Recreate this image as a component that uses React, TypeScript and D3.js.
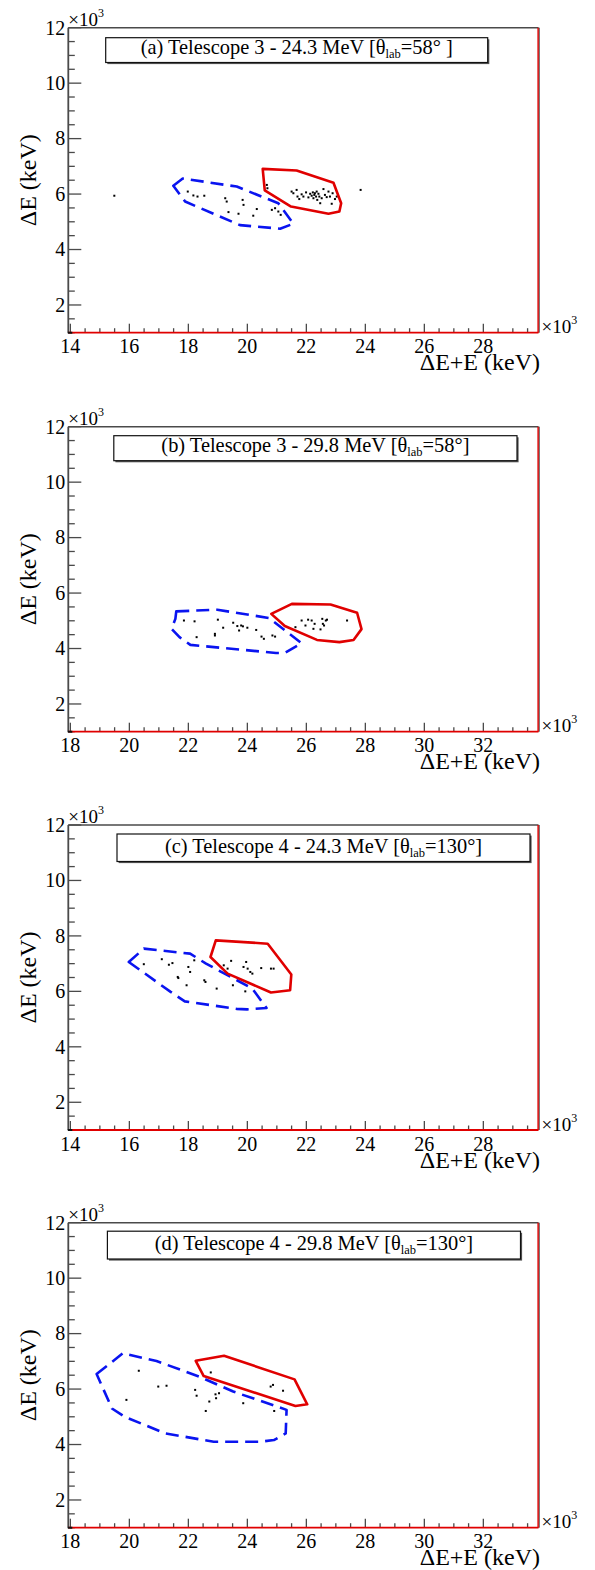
import React from "react";
import * as d3 from "d3";

type Pt = [number, number];

// ---------- data (values in units of 10^3 keV) ----------
const titlePrefix = [
  "(a) Telescope 3 - 24.3 MeV [θ",
  "(b) Telescope 3 - 29.8 MeV [θ",
  "(c) Telescope 4 - 24.3 MeV [θ",
  "(d) Telescope 4 - 29.8 MeV [θ",
];
const titleSub = "lab";
const titleSuffix = ["=58° ]", "=58°]", "=130°]", "=130°]"];

const xDomains: Pt[] = [
  [13.93, 29.87],
  [17.93, 33.87],
  [13.93, 29.87],
  [17.93, 33.87],
];
const xMajorTicks = [
  [14, 16, 18, 20, 22, 24, 26, 28],
  [18, 20, 22, 24, 26, 28, 30, 32],
  [14, 16, 18, 20, 22, 24, 26, 28],
  [18, 20, 22, 24, 26, 28, 30, 32],
];
const yDomain: Pt = [1, 12];
const yMajorTicks = [2, 4, 6, 8, 10, 12];
const xTitle = "ΔE+E (keV)";
const yTitle = "ΔE (keV)";

const blueA: Pt[] = [[17.49, 6.3], [17.81, 6.56], [19.64, 6.27], [21.05, 5.67], [21.56, 4.93], [21.11, 4.75], [19.75, 4.88], [17.89, 5.73]];
const redA: Pt[] = [[20.52, 6.91], [21.67, 6.85], [22.92, 6.41], [23.18, 5.67], [23.12, 5.37], [22.75, 5.29], [21.48, 5.55], [20.59, 6.13]];
const dotsA: Pt[] = [
  [15.49, 5.94], [23.84, 6.15],
  [17.98, 6.09], [18.17, 5.95], [18.31, 5.91], [18.54, 5.94], [19.25, 5.85], [19.3, 5.73], [19.36, 5.35], [19.7, 5.29],
  [19.84, 5.79], [19.87, 5.61], [20.2, 5.22], [20.32, 5.46], [20.83, 5.43], [20.94, 5.49], [21.05, 5.37], [21.13, 5.25],
  [20.66, 6.33], [20.68, 6.21], [21.5, 6.09], [21.56, 6.03], [21.67, 6.15], [21.7, 5.91], [21.76, 5.82], [21.84, 5.99],
  [21.9, 5.91], [21.99, 6.06], [22.07, 5.88], [22.13, 6.01], [22.18, 5.94], [22.22, 6.06], [22.24, 5.85], [22.27, 5.97],
  [22.29, 6.03], [22.33, 5.91], [22.35, 6.09], [22.37, 5.79], [22.41, 6.01], [22.44, 5.91], [22.47, 5.67], [22.52, 5.85],
  [22.58, 6.18], [22.63, 5.97], [22.69, 5.89], [22.75, 6.09], [22.8, 5.91], [22.86, 5.65], [22.89, 6.03], [22.97, 5.82], [23.03, 5.91],
];

const blueB: Pt[] = [[21.59, 5.34], [22.98, 5.4], [24.73, 5.1], [25.84, 4.19], [25.27, 3.84], [24.97, 3.84], [22.07, 4.13], [21.7, 4.41], [21.43, 4.71], [21.56, 5.07]];
const redB: Pt[] = [[24.81, 5.25], [25.51, 5.61], [26.82, 5.59], [27.72, 5.29], [27.87, 4.7], [27.6, 4.31], [27.12, 4.23], [26.36, 4.31], [25.27, 4.81]];
const dotsB: Pt[] = [
  [21.85, 5.01], [22.21, 4.98], [22.28, 4.41], [23.0, 5.04], [23.18, 4.75], [22.9, 4.53], [22.9, 4.47], [23.52, 4.93],
  [23.66, 4.81], [23.72, 4.65], [23.79, 4.83], [23.85, 4.8], [24.0, 4.75], [24.3, 4.67], [24.48, 4.43], [24.56, 4.35],
  [24.85, 4.47], [24.94, 4.43],
  [25.63, 4.77], [25.84, 5.01], [25.97, 4.83], [26.06, 5.04], [26.18, 5.01], [26.24, 4.71], [26.28, 4.89], [26.48, 4.69],
  [26.54, 5.07], [26.56, 4.89], [26.6, 4.83], [26.66, 5.01], [26.7, 5.04], [27.38, 5.01],
];

const blueC: Pt[] = [[15.98, 7.06], [16.49, 7.54], [18.06, 7.36], [18.6, 7.0], [20.17, 6.1], [20.65, 5.4], [19.99, 5.35], [19.63, 5.37], [17.88, 5.64], [17.4, 5.98]];
const redC: Pt[] = [[18.93, 7.84], [20.69, 7.72], [21.49, 6.61], [21.45, 6.04], [20.8, 5.96], [19.33, 6.64], [18.75, 7.24]];
const dotsC: Pt[] = [
  [16.49, 6.98], [17.1, 7.16], [17.34, 6.96], [17.46, 7.02], [17.64, 6.52], [17.66, 6.48], [17.94, 6.22], [18.0, 6.88],
  [18.06, 6.7], [18.2, 7.12], [18.54, 6.4], [18.58, 6.34], [18.96, 6.1], [19.2, 6.94], [19.33, 6.82], [19.45, 7.1],
  [19.51, 6.22], [19.87, 6.88], [19.93, 6.0], [19.96, 7.06], [20.01, 6.82], [20.1, 6.7], [20.17, 6.64], [20.47, 6.84],
  [20.8, 6.82], [20.89, 6.82],
];

const blueD: Pt[] = [[18.89, 6.54], [19.78, 7.29], [20.92, 7.01], [22.37, 6.45], [23.52, 5.91], [25.33, 5.25], [25.3, 4.4], [24.9, 4.16], [24.43, 4.1], [22.86, 4.1], [21.22, 4.4], [19.84, 5.0], [19.41, 5.3]];
const redD: Pt[] = [[22.25, 7.02], [23.21, 7.2], [25.6, 6.35], [26.03, 5.45], [25.63, 5.39], [22.52, 6.47]];
const dotsD: Pt[] = [
  [20.32, 6.66], [19.9, 5.61], [20.98, 6.09], [21.26, 6.12], [22.23, 5.97], [22.28, 5.76], [22.76, 6.6], [22.71, 5.55],
  [22.59, 5.21], [22.92, 5.81], [22.94, 5.67], [23.04, 5.85], [23.86, 5.49], [24.79, 6.09], [24.87, 6.15], [24.91, 5.21], [25.21, 5.94],
];

const blueCuts = [blueA, blueB, blueC, blueD];
const redCuts = [redA, redB, redC, redD];
const dotSets = [dotsA, dotsB, dotsC, dotsD];

// ---------- layout ----------
const W = 595;
const H = 1570;
const LEFT = 68.3;
const RIGHT = 538.5;
const PH = 305;
const panelTops = [27.7, 426.7, 825, 1222.7];
const boxes = [
  { x0: 105.7, x1: 487.7, dy0: 10, dy1: 34.8 },
  { x0: 113.8, x1: 517, dy0: 9, dy1: 34 },
  { x0: 117, x1: 530, dy0: 9, dy1: 36.5 },
  { x0: 107.4, x1: 520.5, dy0: 8.5, dy1: 36.3 },
];
const FONT = "'Liberation Serif', 'DejaVu Serif', serif";
const GRAY = "#4a4a4a";
const RED = "#e00000";
const BLUE = "#0a14f0";

function range(a: number, b: number, step: number) {
  const out: number[] = [];
  for (let v = a; v <= b + 1e-9; v += step) out.push(+v.toFixed(3));
  return out;
}

function Panel({ i }: { i: number }) {
  const top = panelTops[i];
  const bottom = top + PH;
  const x = d3.scaleLinear().domain(xDomains[i]).range([LEFT, RIGHT]);
  const y = d3.scaleLinear().domain(yDomain).range([bottom, top]);
  const line = d3.line<Pt>().x((d) => x(d[0])).y((d) => y(d[1])).curve(d3.curveLinearClosed);
  const [xd0, xd1] = xDomains[i];
  const xMinor = range(Math.ceil(xd0 * 2) / 2, xd1, 0.5).filter((v) => !xMajorTicks[i].includes(v));
  const yMinor = range(1, 12, 0.5).filter((v) => !yMajorTicks.includes(v));
  const box = boxes[i];
  const by0 = top + box.dy0;
  const by1 = top + box.dy1;
  const cx = (box.x0 + box.x1) / 2;
  return (
    <g>
      {/* ticks */}
      {yMajorTicks.map((t) => (
        <line key={"ym" + t} x1={LEFT} x2={LEFT + 13} y1={y(t)} y2={y(t)} stroke={GRAY} strokeWidth={1.3} />
      ))}
      {yMinor.map((t) => (
        <line key={"yn" + t} x1={LEFT} x2={LEFT + 6.5} y1={y(t)} y2={y(t)} stroke={GRAY} strokeWidth={1.3} />
      ))}
      {xMajorTicks[i].map((t) => (
        <line key={"xm" + t} x1={x(t)} x2={x(t)} y1={bottom} y2={bottom - 9} stroke={GRAY} strokeWidth={1.3} />
      ))}
      {xMinor.map((t) => (
        <line key={"xn" + t} x1={x(t)} x2={x(t)} y1={bottom} y2={bottom - 4.5} stroke={GRAY} strokeWidth={1.3} />
      ))}
      {/* frame */}
      <line x1={LEFT} x2={RIGHT} y1={top} y2={top} stroke={GRAY} strokeWidth={1.6} />
      <line x1={LEFT} x2={LEFT} y1={top} y2={bottom} stroke={GRAY} strokeWidth={1.8} />
      <line x1={RIGHT + 0.6} x2={RIGHT + 0.6} y1={top} y2={bottom} stroke="#222" strokeWidth={1} />
      <line x1={RIGHT - 0.4} x2={RIGHT - 0.4} y1={top} y2={bottom} stroke={RED} strokeWidth={1.4} />
      <line x1={LEFT} x2={RIGHT} y1={bottom} y2={bottom} stroke={RED} strokeWidth={1.8} />
      <line x1={LEFT - 0.5} x2={LEFT + 4} y1={bottom} y2={bottom} stroke="#111" strokeWidth={2} />
      {/* tick labels */}
      {yMajorTicks.map((t) => (
        <text key={"yl" + t} x={LEFT - 3} y={y(t) + 6.8} textAnchor="end" fontFamily={FONT} fontSize={20} fill="#000">
          {t}
        </text>
      ))}
      {xMajorTicks[i].map((t) => (
        <text key={"xl" + t} x={x(t)} y={bottom + 20.6} textAnchor="middle" fontFamily={FONT} fontSize={20} fill="#000">
          {t}
        </text>
      ))}
      {/* exponent labels */}
      <text x={LEFT} y={top - 2} fontFamily={FONT} fontSize={19} fill="#000">
        ×10<tspan fontSize={12} dy={-9}>3</tspan>
      </text>
      <text x={RIGHT + 3} y={bottom + 0.5} fontFamily={FONT} fontSize={19} fill="#000">
        ×10<tspan fontSize={12} dy={-9}>3</tspan>
      </text>
      {/* axis titles */}
      <text x={RIGHT + 1.5} y={bottom + 37.5} textAnchor="end" fontFamily={FONT} fontSize={24} fill="#000">
        {xTitle}
      </text>
      <text
        transform={`translate(35.5,${(top + bottom) / 2}) rotate(-90)`}
        textAnchor="middle"
        fontFamily={FONT}
        fontSize={24}
        fill="#000"
      >
        {yTitle}
      </text>
      {/* title box */}
      <rect x={box.x0 + 1.6} y={by0 + 1.6} width={box.x1 - box.x0} height={by1 - by0} fill="#555" />
      <rect x={box.x0} y={by0} width={box.x1 - box.x0} height={by1 - by0} fill="#fff" stroke="#111" strokeWidth={1.2} />
      <text x={cx} y={by1 - 9} textAnchor="middle" fontFamily={FONT} fontSize={20.4} fill="#000">
        {titlePrefix[i]}
        <tspan fontSize={12.5} dy={4}>
          {titleSub}
        </tspan>
        <tspan dy={-4}>{titleSuffix[i]}</tspan>
      </text>
      {/* data */}
      {dotSets[i].map((d, k) => (
        <rect key={"d" + k} x={x(d[0]) - 1} y={y(d[1]) - 1} width={2} height={2} fill="#000" />
      ))}
      <path d={line(blueCuts[i]) || ""} fill="none" stroke={BLUE} strokeWidth={2.6} strokeDasharray="13,7" strokeLinejoin="round" />
      <path d={line(redCuts[i]) || ""} fill="none" stroke={RED} strokeWidth={2.6} strokeLinejoin="round" />
    </g>
  );
}

export default function App() {
  return (
    <svg
      width={W}
      height={H}
      viewBox={`0 0 ${W} ${H}`}
      style={{ position: "absolute", left: 0, top: 0, background: "#fff" }}
    >
      <rect x={0} y={0} width={W} height={H} fill="#fff" />
      {[0, 1, 2, 3].map((i) => (
        <Panel key={i} i={i} />
      ))}
    </svg>
  );
}
